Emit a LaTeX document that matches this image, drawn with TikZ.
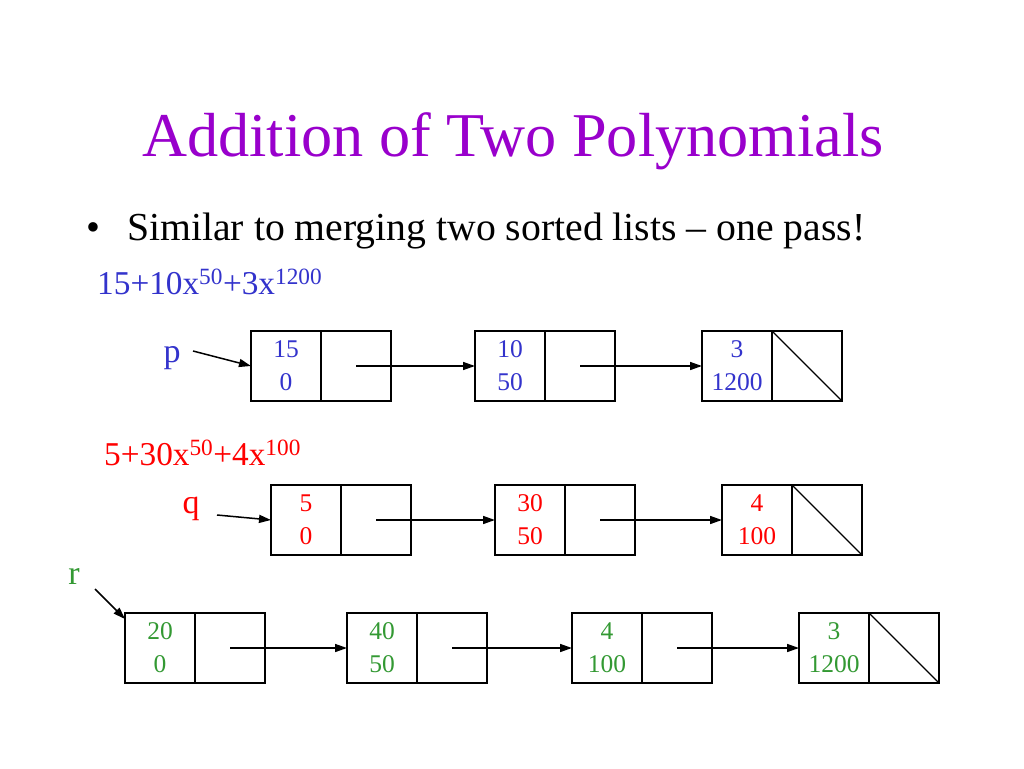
\documentclass[tikz,border=0pt]{standalone}
\usepackage{fontspec}
\setmainfont{Liberation Serif}
\usetikzlibrary{arrows.meta,positioning}
\definecolor{titlepurple}{RGB}{153,0,204}
\definecolor{polyblue}{RGB}{51,51,204}
\definecolor{polyred}{RGB}{255,0,0}
\definecolor{polygreen}{RGB}{51,153,51}
\tikzset{
  cell/.style={draw, line width=1.1pt, minimum width=70pt, minimum height=70pt, inner sep=0pt, outer sep=0pt},
  val/.style={cell, align=center, font=\fontsize{25.5}{33}\selectfont},
  ptr/.style={line width=1.5pt, -{Triangle[length=12pt,width=8pt]}},
  lbl/.style={font=\fontsize{34}{40}\selectfont, inner sep=0pt, anchor=base},
  poly/.style={font=\fontsize{33.3}{40}\selectfont, inner sep=0pt, anchor=base west}
}
\begin{document}
\begin{tikzpicture}[x=1pt,y=-1pt]
			\useasboundingbox[fill=white] (0,0) rectangle (1024,768);
			
			%%%%% TEXT %%%%%
			\node[anchor=base, inner sep=0pt, text=titlepurple, font=\fontsize{62.3}{70}\selectfont] (title) at (513,156) {Addition of Two Polynomials};
			\node[anchor=base west, inner sep=0pt, font=\fontsize{39.7}{46}\selectfont] (bullet) at (86,240) {\makebox[41pt][l]{\textbullet}Similar to merging two sorted lists – one pass!};
			
			\node[poly, text=polyblue] (ppoly) at (97,294) {15+10x\textsuperscript{50}+3x\textsuperscript{1200}};
			\node[poly, text=polyred] (qpoly) at (104,465) {5+30x\textsuperscript{50}+4x\textsuperscript{100}};
			
			%%%%% LIST p %%%%%
			\node[lbl, text=polyblue] (p) at (172,362) {p};
			\node[val, text=polyblue] (p1) at (286,366) {15\\0};
			\node[cell, right=0pt of p1] (p1l) {};
			\node[val, text=polyblue] (p2) at (510,366) {10\\50};
			\node[cell, right=0pt of p2] (p2l) {};
			\node[val, text=polyblue] (p3) at (737,366) {3\\1200};
			\node[cell, right=0pt of p3] (p3l) {};
			\draw[line width=1.1pt] (p3l.north west) -- (p3l.south east);
			
			\coordinate (ptail) at (193,351);
			\draw[ptr] (ptail) -- (p1.west);
			\draw[ptr] (p1l.center) -- (p2.west);
			\draw[ptr] (p2l.center) -- (p3.west);
			
			%%%%% LIST q %%%%%
			\node[lbl, text=polyred] (q) at (191,513) {q};
			\node[val, text=polyred] (q1) at (306,520) {5\\0};
			\node[cell, right=0pt of q1] (q1l) {};
			\node[val, text=polyred] (q2) at (530,520) {30\\50};
			\node[cell, right=0pt of q2] (q2l) {};
			\node[val, text=polyred] (q3) at (757,520) {4\\100};
			\node[cell, right=0pt of q3] (q3l) {};
			\draw[line width=1.1pt] (q3l.north west) -- (q3l.south east);
			
			\coordinate (qtail) at (217,515);
			\draw[ptr] (qtail) -- (q1.west);
			\draw[ptr] (q1l.center) -- (q2.west);
			\draw[ptr] (q2l.center) -- (q3.west);
			
			%%%%% LIST r %%%%%
			\node[lbl, text=polygreen] (r) at (74,584) {r};
			\node[val, text=polygreen] (r1) at (160,648) {20\\0};
			\node[cell, right=0pt of r1] (r1l) {};
			\node[val, text=polygreen] (r2) at (382,648) {40\\50};
			\node[cell, right=0pt of r2] (r2l) {};
			\node[val, text=polygreen] (r3) at (607,648) {4\\100};
			\node[cell, right=0pt of r3] (r3l) {};
			\node[val, text=polygreen] (r4) at (834,648) {3\\1200};
			\node[cell, right=0pt of r4] (r4l) {};
			\draw[line width=1.1pt] (r4l.north west) -- (r4l.south east);
			
			\coordinate (rtail) at (95,589);
			\draw[ptr] (rtail) -- ([yshift=-6pt]r1.north west);
			\draw[ptr] (r1l.center) -- (r2.west);
			\draw[ptr] (r2l.center) -- (r3.west);
			\draw[ptr] (r3l.center) -- (r4.west);
			
			%%%%% END %%%%%
\end{tikzpicture}
\end{document}
